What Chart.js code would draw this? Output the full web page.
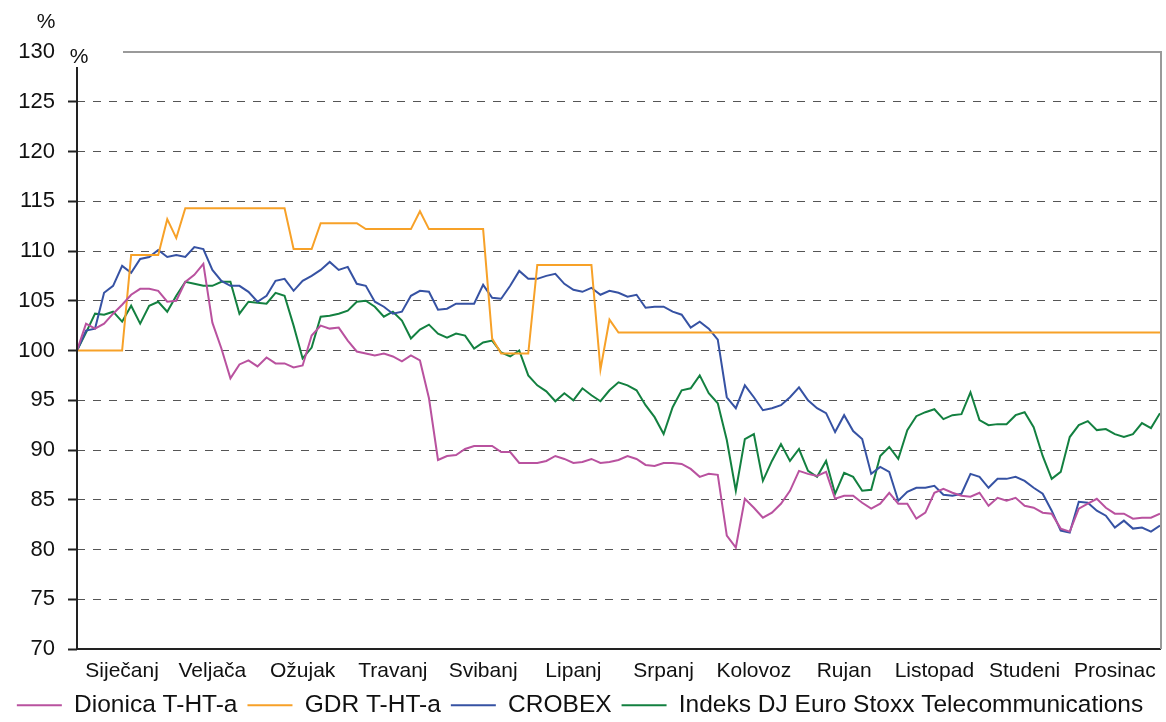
<!DOCTYPE html>
<html>
<head>
<meta charset="utf-8">
<script src="https://cdn.jsdelivr.net/npm/chart.js@4.4.1/dist/chart.umd.min.js"></script>
<style>
  body { margin: 0; background: #fff; }
  #wrap { width: 1166px; height: 722px; }
</style>
</head>
<body>
<div id="wrap"><canvas id="tht-chart"></canvas></div>
<script>
// mjeseci (oznake osi x), 10 točaka po mjesecu
var months = ['Siječanj', 'Veljača', 'Ožujak', 'Travanj', 'Svibanj', 'Lipanj', 'Srpanj', 'Kolovoz', 'Rujan', 'Listopad', 'Studeni', 'Prosinac'];

var dionica = [100, 102.7, 102.2, 102.7, 103.7, 104.6, 105.6, 106.2, 106.2, 106.0,
  104.9, 105.0, 106.9, 107.6, 108.7, 102.8, 100.2, 97.2, 98.6, 99.0,
  98.4, 99.3, 98.7, 98.7, 98.3, 98.5, 101.5, 102.5, 102.2, 102.3,
  101.0, 99.9, 99.7, 99.5, 99.7, 99.4, 98.9, 99.5, 99.0, 95.2,
  89.0, 89.4, 89.5, 90.1, 90.4, 90.4, 90.4, 89.8, 89.8, 88.7,
  88.7, 88.7, 88.9, 89.4, 89.1, 88.7, 88.8, 89.1, 88.7, 88.8,
  89.0, 89.4, 89.1, 88.5, 88.4, 88.7, 88.7, 88.6, 88.1, 87.3,
  87.6, 87.5, 81.4, 80.2, 85.1, 84.2, 83.2, 83.7, 84.6, 85.9,
  87.9, 87.6, 87.4, 87.8, 85.1, 85.4, 85.4, 84.7, 84.1, 84.6,
  85.7, 84.6, 84.6, 83.1, 83.7, 85.7, 86.1, 85.7, 85.4, 85.3,
  85.7, 84.4, 85.2, 84.9, 85.2, 84.4, 84.2, 83.7, 83.6, 82.1,
  81.8, 84.1, 84.6, 85.1, 84.2, 83.6, 83.6, 83.1, 83.2, 83.2,
  83.6];

var gdr = [100, 100, 100, 100, 100, 100, 109.6, 109.6, 109.6, 109.6,
  113.2, 111.3, 114.3, 114.3, 114.3, 114.3, 114.3, 114.3, 114.3, 114.3,
  114.3, 114.3, 114.3, 114.3, 110.2, 110.2, 110.2, 112.8, 112.8, 112.8,
  112.8, 112.8, 112.2, 112.2, 112.2, 112.2, 112.2, 112.2, 114.0, 112.2,
  112.2, 112.2, 112.2, 112.2, 112.2, 112.2, 101.2, 99.7, 99.7, 99.7,
  99.7, 108.6, 108.6, 108.6, 108.6, 108.6, 108.6, 108.6, 98.1, 103.1,
  101.8, 101.8, 101.8, 101.8, 101.8, 101.8, 101.8, 101.8, 101.8, 101.8,
  101.8, 101.8, 101.8, 101.8, 101.8, 101.8, 101.8, 101.8, 101.8, 101.8,
  101.8, 101.8, 101.8, 101.8, 101.8, 101.8, 101.8, 101.8, 101.8, 101.8,
  101.8, 101.8, 101.8, 101.8, 101.8, 101.8, 101.8, 101.8, 101.8, 101.8,
  101.8, 101.8, 101.8, 101.8, 101.8, 101.8, 101.8, 101.8, 101.8, 101.8,
  101.8, 101.8, 101.8, 101.8, 101.8, 101.8, 101.8, 101.8, 101.8, 101.8,
  101.8];

var crobex = [100, 102.0, 102.2, 105.8, 106.5, 108.5, 107.8, 109.2, 109.4, 110.1,
  109.4, 109.6, 109.4, 110.4, 110.2, 108.1, 107.0, 106.5, 106.5, 105.9,
  104.9, 105.5, 107.0, 107.2, 106.0, 107.0, 107.5, 108.1, 108.9, 108.1,
  108.4, 106.7, 106.5, 104.9, 104.4, 103.7, 103.9, 105.5, 106.0, 105.9,
  104.1, 104.2, 104.7, 104.7, 104.7, 106.6, 105.3, 105.2, 106.5, 108.0,
  107.2, 107.2, 107.5, 107.7, 106.7, 106.1, 105.9, 106.3, 105.6, 106.0,
  105.8, 105.4, 105.6, 104.3, 104.4, 104.4, 103.9, 103.6, 102.3, 102.9,
  102.2, 101.1, 95.3, 94.2, 96.5, 95.3, 94.0, 94.2, 94.5, 95.3,
  96.3, 95.0, 94.2, 93.7, 91.8, 93.5, 91.9, 91.1, 87.6, 88.3,
  87.8, 84.9, 85.8, 86.2, 86.2, 86.4, 85.5, 85.4, 85.6, 87.6,
  87.3, 86.2, 87.1, 87.1, 87.3, 86.9, 86.2, 85.6, 83.9, 81.9,
  81.7, 84.8, 84.7, 83.9, 83.4, 82.2, 82.9, 82.1, 82.2, 81.8,
  82.4];

var djStoxx = [100, 101.8, 103.7, 103.6, 103.9, 102.9, 104.5, 102.7, 104.5, 104.9,
  103.9, 105.5, 106.9, 106.7, 106.5, 106.5, 106.9, 106.9, 103.7, 104.9,
  104.8, 104.7, 105.8, 105.5, 102.5, 99.2, 100.3, 103.4, 103.5, 103.7,
  104.0, 104.9, 105.0, 104.4, 103.4, 103.9, 103.0, 101.2, 102.1, 102.6,
  101.7, 101.3, 101.7, 101.5, 100.2, 100.8, 101.0, 99.8, 99.4, 100.0,
  97.5, 96.5, 95.9, 94.9, 95.7, 95.0, 96.2, 95.5, 94.9, 96.0,
  96.8, 96.5, 96.0, 94.5, 93.3, 91.6, 94.3, 96.0, 96.2, 97.5,
  95.7, 94.7, 91.0, 85.9, 91.1, 91.6, 86.9, 88.9, 90.6, 88.9,
  90.1, 87.9, 87.3, 88.9, 85.6, 87.7, 87.3, 85.9, 86.0, 89.4,
  90.3, 89.1, 92.0, 93.4, 93.8, 94.1, 93.1, 93.5, 93.6, 95.8,
  93.0, 92.5, 92.6, 92.6, 93.5, 93.8, 92.3, 89.4, 87.1, 87.8,
  91.3, 92.5, 92.9, 92.0, 92.1, 91.6, 91.3, 91.6, 92.7, 92.2,
  93.7];

var FONT = "'Liberation Sans', Arial, sans-serif";

function points(arr) {
    return arr.map(function (v, i) { return { x: i, y: v }; });
}

function series(label, arr, color) {
    return {
        label: label,
        data: points(arr),
        borderColor: color,
        backgroundColor: color,
        borderWidth: 2,
        pointRadius: 0,
        tension: 0,
        fill: false
    };
}

// okvir, os y i oznake %
var frame = {
    id: 'frame',
    afterDraw: function (chart) {
        var ctx = chart.ctx;
        var a = chart.chartArea;
        ctx.save();
        ctx.lineWidth = 2;
        ctx.strokeStyle = '#9a9a9a';
        ctx.beginPath();
        ctx.moveTo(123, a.top);
        ctx.lineTo(a.right + 1, a.top);
        ctx.lineTo(a.right + 1, a.bottom);
        ctx.stroke();
        ctx.strokeStyle = '#222';
        ctx.beginPath();
        ctx.moveTo(a.left, a.top + 15);
        ctx.lineTo(a.left, a.bottom);
        ctx.stroke();
        ctx.fillStyle = '#111';
        ctx.font = '21px ' + FONT;
        ctx.textAlign = 'center';
        ctx.textBaseline = 'middle';
        ctx.fillText('%', 46, 22);
        ctx.fillText('%', a.left + 2, a.top + 5);
        ctx.restore();
    }
};

var layout = {
    type: 'line',
    data: {
        datasets: [
            series('Dionica T-HT-a', dionica, '#b9529f'),
            series('GDR T-HT-a', gdr, '#f7a128'),
            series('CROBEX', crobex, '#3652a3'),
            series('Indeks DJ Euro Stoxx Telecommunications', djStoxx, '#138040')
        ]
    },
    options: {
        animation: false,
        maintainAspectRatio: false,
        layout: {
            padding: { top: 52, right: 6, left: 0, bottom: 0 }
        },
        plugins: {
            legend: {
                position: 'bottom',
                maxHeight: 39,
                labels: {
                    usePointStyle: true,
                    pointStyle: 'line',
                    pointStyleWidth: 45,
                    padding: 10,
                    color: '#111',
                    font: { family: FONT, size: 24.5 }
                }
            },
            tooltip: { enabled: false }
        },
        scales: {
            x: {
                type: 'linear',
                min: 0,
                max: (months.length * 10),
                afterBuildTicks: function (scale) {
                    scale.ticks = months.map(function (m, k) { return { value: k * 10 + 5 }; });
                },
                afterFit: function (scale) { scale.height = 34; },
                grid: { display: false, drawTicks: false },
                border: { display: true, color: '#222', width: 2 },
                ticks: {
                    padding: 10,
                    maxRotation: 0,
                    autoSkip: false,
                    color: '#111',
                    font: { family: FONT, size: 21 },
                    callback: function (value, index) { return months[index]; }
                }
            },
            y: {
                min: 70,
                max: 130,
                afterFit: function (scale) { scale.width = 77; },
                grid: {
                    color: function (c) {
                        return (c.tick && (c.tick.value === 130 || c.tick.value === 70)) ? 'rgba(0,0,0,0)' : '#555';
                    },
                    lineWidth: 1,
                    tickLength: 9,
                    tickWidth: 2,
                    tickColor: function (c) {
                        return (c.tick && c.tick.value === 130) ? 'rgba(0,0,0,0)' : '#222';
                    }
                },
                border: { display: false, dash: [8, 8] },
                ticks: {
                    stepSize: 5,
                    padding: 13,
                    color: '#111',
                    font: { family: FONT, size: 22 }
                }
            }
        }
    },
    plugins: [frame]
};

var el = document.getElementById('tht-chart');
new Chart(el, layout);
</script>
</body>
</html>
